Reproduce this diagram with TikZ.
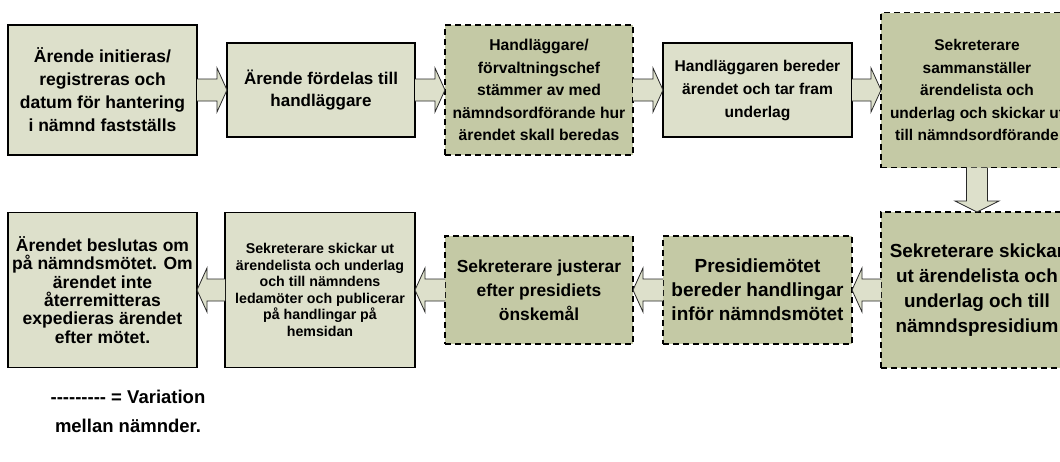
\documentclass[tikz,border=0pt]{standalone}
\usepackage{fontspec}
\setmainfont{Liberation Sans}
\usetikzlibrary{calc}
\definecolor{boxlight}{RGB}{221,224,203}
\definecolor{boxdark}{RGB}{196,201,165}
\definecolor{arrline}{RGB}{40,40,40}
\newcommand\fs[2]{\fontsize{#1}{#2}\selectfont}
\newcommand\hy{\mbox{-}}
\tikzset{
  box/.style={draw=black, line width=1.1pt, inner sep=0pt, outer sep=0pt, align=center},
  lightbox/.style={box, fill=boxlight},
  darkbox/.style={box, fill=boxdark, dash pattern=on 6pt off 4pt},
  blockarr/.style={fill=boxlight, draw=arrline, line width=0.8pt, line join=miter},
}
\newcommand\arrR[2]{%
  \filldraw[blockarr] ($(#1.east)+(0,-11)$) -- ($(#2.west)+(-10,-11)$) -- ($(#2.west)+(-10,-22)$) -- (#2.west) -- ($(#2.west)+(-10,22)$) -- ($(#2.west)+(-10,11)$) -- ($(#1.east)+(0,11)$);}
\newcommand\arrL[2]{%
  \filldraw[blockarr] ($(#1.west)+(0,-11)$) -- ($(#2.east)+(10,-11)$) -- ($(#2.east)+(10,-22)$) -- (#2.east) -- ($(#2.east)+(10,22)$) -- ($(#2.east)+(10,11)$) -- ($(#1.west)+(0,11)$);}
\begin{document}
\begin{tikzpicture}[x=1pt,y=-1pt]
\fill[white] (0,0) rectangle (1060,461);
\useasboundingbox (0,0) rectangle (1060,461);
% row 1
\node[lightbox, minimum width=189pt, minimum height=130pt, font=\bfseries\fs{17.5}{23}] (b1) at (102.5,90)
  {Ärende initieras/\\registreras och\\datum för hantering\\i nämnd fastställs};
\node[lightbox, minimum width=188pt, minimum height=94pt, font=\bfseries\fs{17}{22}] (b2) at (321,90)
  {Ärende fördelas till\\handläggare};
\node[darkbox, minimum width=188pt, minimum height=130pt, font=\bfseries\fs{15.7}{22.5}] (b3) at (539,90)
  {Handläggare/\\förvaltningschef\\stämmer av med\\nämndsordförande hur\\ärendet skall beredas};
\node[lightbox, minimum width=189pt, minimum height=94pt, font=\bfseries\fs{15.6}{23}] (b4) at (757.5,90)
  {Handläggaren bereder\\ärendet och tar fram\\underlag};
\node[darkbox, minimum width=192pt, minimum height=155pt, font=\bfseries\fs{15.5}{22.5}] (b5) at (977,90)
  {Sekreterare\\sammanställer\\ärendelista och\\underlag och skickar ut\\till nämndsordförande};
% row 2
\node[darkbox, minimum width=192pt, minimum height=156pt, font=\bfseries\fs{18.9}{25}] (b6) at (977,290)
  {Sekreterare skickar\\ut ärendelista och\\underlag och till\\nämndspresidium};
\node[darkbox, minimum width=189pt, minimum height=108pt, font=\bfseries\fs{19}{24}] (b7) at (757.5,290)
  {Presidiemötet\\bereder handlingar\\inför nämndsmötet};
\node[darkbox, minimum width=188pt, minimum height=108pt, font=\bfseries\fs{17.4}{24}] (b8) at (539,290)
  {Sekreterare justerar\\efter presidiets\\önskemål};
\node[lightbox, minimum width=190pt, minimum height=155pt, font=\bfseries\fs{14.2}{16.5}] (b9) at (320,290)
  {Sekreterare skickar ut\\ärendelista och underlag\\och till nämndens\\ledamöter och publicerar\\på handlingar på\\hemsidan};
\node[lightbox, minimum width=189pt, minimum height=155pt, font=\bfseries\fs{17.5}{18.3}] (b10) at (102.5,290)
  {Ärendet beslutas om\\på nämndsmötet. Om\\ärendet inte\\återremitteras\\expedieras ärendet\\efter mötet.};
% arrows
\arrR{b1}{b2}
\arrR{b2}{b3}
\arrR{b3}{b4}
\arrR{b4}{b5}
\filldraw[blockarr] ($(b5.south)+(-10.5,0)$) -- ($(b6.north)+(-10.5,-11)$) -- ($(b6.north)+(-22,-11)$) -- (b6.north) -- ($(b6.north)+(22,-11)$) -- ($(b6.north)+(10.5,-11)$) -- ($(b5.south)+(10.5,0)$);
\arrL{b6}{b7}
\arrL{b7}{b8}
\arrL{b8}{b9}
\arrL{b9}{b10}
% legend
\node[inner sep=0pt, align=center, font=\bfseries\fs{18.5}{29}] (legend) at (128,411)
  {\hy\hy\hy\hy\hy\hy\hy\hy\hy{} = Variation\\mellan nämnder.};
\end{tikzpicture}
\end{document}
